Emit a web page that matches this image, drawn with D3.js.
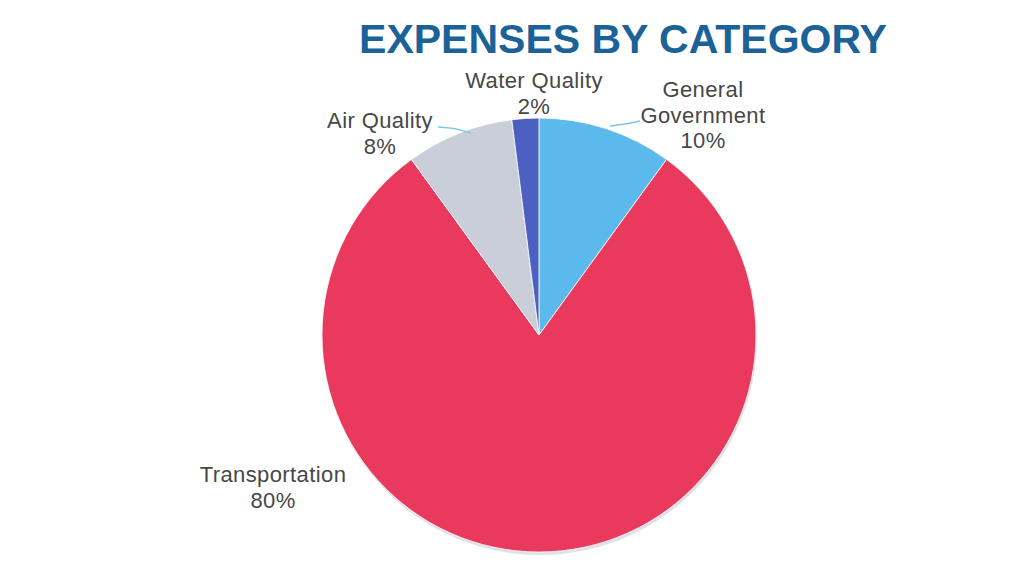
<!DOCTYPE html>
<html>
<head>
<meta charset="utf-8">
<script src="https://cdn.jsdelivr.net/npm/d3@7"></script>
<style>
  html, body { margin: 0; padding: 0; background: #fff; }
  svg { display: block; }
</style>
</head>
<body>
<svg id="chart" width="1031" height="573"></svg>
<script>
// data
const categories = ["General Government", "Transportation", "Air Quality", "Water Quality"];
const shares = [10, 80, 8, 2];
const colors = ["#5cb9ec", "#e9395c", "#c9ced9", "#4c60c2"];
const labelLines = [
    ["General", "Government", "10%"],
    ["Transportation", "80%"],
    ["Air Quality", "8%"],
    ["Water Quality", "2%"]
];

const width = 1031, height = 573;
const cx = 539, cy = 335, radius = 217;

const svg = d3.select("#chart");

svg.append("text")
    .attr("x", 623)
    .attr("y", 53)
    .attr("text-anchor", "middle")
    .style("font-family", "'Liberation Sans', Arial, sans-serif")
    .style("font-weight", "bold")
    .style("font-size", "41px")
    .style("fill", "#1b6299")
    .text("EXPENSES BY CATEGORY");

const pie = d3.pie().sort(null).value(d => d);
const arcs = pie(shares);
const arc = d3.arc().innerRadius(0).outerRadius(radius);

const g = svg.append("g").attr("transform", "translate(" + cx + "," + cy + ")");

// faint shadow under the pie
g.append("circle")
    .attr("cx", 1)
    .attr("cy", 3)
    .attr("r", radius)
    .style("fill", "#dfe1e6");

g.selectAll("path.slice")
    .data(arcs)
    .enter()
    .append("path")
    .attr("class", "slice")
    .attr("d", arc)
    .style("fill", (d, i) => colors[i])
    .style("stroke", "#fff")
    .style("stroke-width", 0.8);

// label placement, relative to the pie centre
const labelPos = [
    { x: 164, y: -238 },
    { x: -266, y: 147 },
    { x: -159, y: -207 },
    { x: -5, y: -247 }
];
const lineHeight = 25.5;

const labels = svg.append("g")
    .style("font-family", "'Liberation Sans', Arial, sans-serif")
    .style("font-size", "22px")
    .style("letter-spacing", "0.4px")
    .style("fill", "#474747");

labelLines.forEach((lines, i) => {
    const t = labels.append("text")
        .attr("text-anchor", "middle")
        .attr("x", cx + labelPos[i].x)
        .attr("y", cy + labelPos[i].y);
    lines.forEach((s, k) => {
        t.append("tspan")
            .attr("x", cx + labelPos[i].x)
            .attr("dy", k === 0 ? 0 : lineHeight)
            .text(s);
    });
});

// leader lines for the two small upper labels
const leader = d3.line().curve(d3.curveBasis);
const leaders = [
    { i: 0, pts: [[640 - cx, 121 - cy], [628 - cx, 124 - cy], [610 - cx, 126 - cy]] },
    { i: 2, pts: [[471 - cx, 133 - cy], [455 - cx, 128 - cy], [438 - cx, 127 - cy]] }
];
g.selectAll("path.leader")
    .data(leaders)
    .enter()
    .append("path")
    .attr("class", "leader")
    .attr("d", d => leader(d.pts))
    .style("fill", "none")
    .style("stroke", "#7cc5e8")
    .style("stroke-width", 1.5);
</script>
</body>
</html>
